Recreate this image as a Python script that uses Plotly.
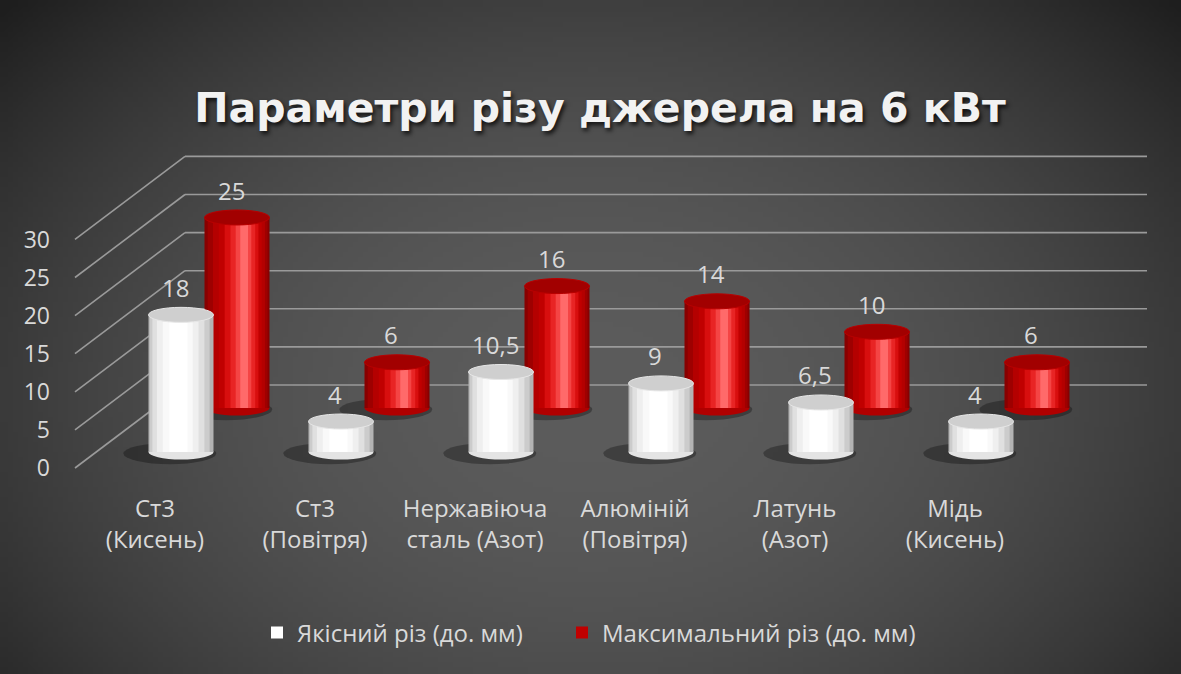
import base64
import struct
import zlib

import numpy as np
import plotly.graph_objects as go

# ---------------- data ----------------
categories = [
    "Ст3<br>(Кисень)",
    "Ст3<br>(Повітря)",
    "Нержавіюча<br>сталь (Азот)",
    "Алюміній<br>(Повітря)",
    "Латунь<br>(Азот)",
    "Мідь<br>(Кисень)",
]
quality_cut = [18, 4, 10.5, 9, 6.5, 4]
max_cut = [25, 6, 16, 14, 10, 6]
y_ticks = [0, 5, 10, 15, 20, 25, 30]
series_names = ["Якісний різ (до. мм)", "Максимальний різ (до. мм)"]
title_text = "Параметри різу джерела на 6 кВт"

# ---------------- layout helpers ----------------
W, H = 1181, 674
SC = 7.62  # pixels per unit


def fx(px):
    return px / W


def fy(py):
    return 1 - py / H


FONT = "Open Sans"
TXT = "#d9d9d9"
GRID = "#9a9a9a"
Y_LO, Y_HI = -3, 33  # axis range of the bar rows (room for rounded bottoms)
CAP = 7.5 / SC       # half height of cylinder ellipse, in data units


# ---------------- background gradient image ----------------
def gradient_png(w=236, h=135):
    yy, xx = np.mgrid[0:h, 0:w].astype(float)
    cx, cy = 0.5 * w, 0.58 * h
    d = np.sqrt(((xx - cx) / (0.62 * w)) ** 2 + ((yy - cy) / (0.78 * h)) ** 2)
    v = 92 - 52 * d ** 2
    v = np.clip(v, 30, 255).astype(np.uint8)
    rgb = np.stack([v, v, v], axis=-1)
    raw = b"".join(b"\x00" + rgb[r].tobytes() for r in range(h))

    def chunk(tag, data):
        c = struct.pack(">I", len(data)) + tag + data
        return c + struct.pack(">I", zlib.crc32(tag + data) & 0xFFFFFFFF)

    png = b"\x89PNG\r\n\x1a\n"
    png += chunk(b"IHDR", struct.pack(">IIBBBBB", w, h, 8, 2, 0, 0, 0))
    png += chunk(b"IDAT", zlib.compress(raw, 9))
    png += chunk(b"IEND", b"")
    return "data:image/png;base64," + base64.b64encode(png).decode()


fig = go.Figure()

BW = 65 / 160  # bar width in category units

# shading layers: (width fraction, centre shift fraction, colour, carries legend)
red_layers = [
    (1.00, 0.00, "#880000", False),
    (0.92, 0.01, "#9e0000", False),
    (0.80, 0.03, "#b40000", False),
    (0.66, 0.05, "#c00000", True),
    (0.52, 0.07, "#d80e0e", False),
    (0.38, 0.09, "#e82424", False),
    (0.24, 0.10, "#f44444", False),
    (0.12, 0.11, "#ff6a6a", False),
]
white_layers = [
    (1.00, 0.00, "#b4b4b4", False),
    (0.92, -0.02, "#cccccc", False),
    (0.80, -0.04, "#e0e0e0", False),
    (0.64, -0.05, "#efefef", False),
    (0.46, -0.05, "#f9f9f9", False),
    (0.28, -0.04, "#ffffff", True),
]

shadow_shapes, bottom_shapes, top_shapes, annotations = [], [], [], []


def add_series(values, layers, xa, ya, name, legend_id, top_col, top_line, bot_col):
    for frac, shift, col, leg in layers:
        ww = BW * frac
        fig.add_trace(go.Bar(
            x=categories, y=values, xaxis=xa, yaxis=ya,
            width=ww, offset=shift * BW - ww / 2,
            marker=dict(color=col, line=dict(width=0)),
            name=name, showlegend=leg, legend=legend_id,
            hoverinfo="skip",
        ))
    for i, v in enumerate(values):
        # soft shadow on the floor
        shadow_shapes.append(dict(type="circle", xref=xa, yref=ya, layer="below",
                                  x0=i - 0.36, x1=i + 0.22, y0=-1.6, y1=1.2,
                                  fillcolor="rgba(0,0,0,0.30)", line=dict(width=0)))
        # rounded bottom of the cylinder
        bottom_shapes.append(dict(type="circle", xref=xa, yref=ya, layer="below",
                                  x0=i - BW / 2, x1=i + BW / 2, y0=-CAP, y1=CAP,
                                  fillcolor=bot_col, line=dict(width=0)))
        # top ellipse of the cylinder
        top_shapes.append(dict(type="circle", xref=xa, yref=ya, layer="above",
                               x0=i - BW / 2, x1=i + BW / 2, y0=v - CAP, y1=v + CAP,
                               fillcolor=top_col, line=dict(width=1, color=top_line)))
        annotations.append(dict(xref=xa, yref=ya, x=i, y=v, xshift=-6, yshift=9,
                                yanchor="bottom", showarrow=False,
                                text=f"{v:g}".replace(".", ","),
                                font=dict(family=FONT, size=24, color=TXT)))


# red (back row) drawn first, white (front row) on top
add_series(max_cut, red_layers, "x", "y", series_names[1], "legend2",
           "#a20000", "#b80000", "#b00000")
add_series(quality_cut, white_layers, "x2", "y2", series_names[0], "legend",
           "#cfcfcf", "#e6e6e6", "#e4e4e4")

# invisible trace carrying the labelled front axes
fig.add_trace(go.Scatter(
    x=categories, y=quality_cut, xaxis="x3", yaxis="y3",
    mode="markers", marker=dict(opacity=0), showlegend=False, hoverinfo="skip",
))

# gridlines on back wall and diagonal side wall
grid_shapes = []
for v in y_ticks:
    grid_shapes.append(dict(type="line", xref="paper", yref="paper", layer="below",
                            x0=fx(185), x1=fx(1147), y0=fy(385 - v * SC), y1=fy(385 - v * SC),
                            line=dict(color=GRID, width=1.6)))
    grid_shapes.append(dict(type="line", xref="paper", yref="paper", layer="below",
                            x0=fx(75), x1=fx(185), y0=fy(468 - v * SC), y1=fy(385 - v * SC),
                            line=dict(color=GRID, width=1.6)))

hidden = dict(visible=False, showgrid=False, zeroline=False, fixedrange=True)
legend_style = dict(orientation="h", xanchor="left", y=fy(633), yanchor="middle",
                    font=dict(family=FONT, size=24, color=TXT), bgcolor="rgba(0,0,0,0)",
                    itemwidth=30, itemclick=False, itemdoubleclick=False)


def row_domain(base_px):
    return [fy(base_px - Y_LO * SC), fy(base_px - Y_HI * SC)]


fig.update_layout(
    width=W, height=H,
    margin=dict(l=0, r=0, t=0, b=0, pad=0, autoexpand=False),
    paper_bgcolor="#3c3c3c",
    plot_bgcolor="rgba(0,0,0,0)",
    barmode="overlay",
    font=dict(family=FONT, color=TXT),
    images=[dict(source=gradient_png(), xref="paper", yref="paper", x=0, y=1,
                 sizex=1, sizey=1, sizing="stretch", layer="below",
                 xanchor="left", yanchor="top")],
    shapes=grid_shapes + shadow_shapes + bottom_shapes + top_shapes,
    annotations=annotations,
    title=dict(text=title_text, x=fx(600), y=fy(108), xanchor="center", yanchor="middle",
               xref="paper", yref="paper",
               font=dict(family="DejaVu Sans", size=41, color="#f2f2f2", weight="bold",
                         shadow="2px 3px 4px rgba(0,0,0,0.75)")),
    xaxis=dict(domain=[fx(157), fx(1117)], type="category", range=[-0.5, 5.5],
               anchor="y", **hidden),
    yaxis=dict(domain=row_domain(408), range=[Y_LO, Y_HI], anchor="x", **hidden),
    xaxis2=dict(domain=[fx(101), fx(1061)], type="category", range=[-0.5, 5.5],
                anchor="y2", **hidden),
    yaxis2=dict(domain=row_domain(452), range=[Y_LO, Y_HI], anchor="x2", **hidden),
    xaxis3=dict(domain=[fx(75), fx(1035)], type="category", range=[-0.5, 5.5],
                anchor="y3", showgrid=False, zeroline=False, showline=False, ticks="",
                tickfont=dict(family=FONT, size=24, color=TXT), ticklabelstandoff=24,
                automargin=False, fixedrange=True),
    yaxis3=dict(domain=[fy(468), fy(240)], range=[0, 30], tickvals=y_ticks,
                anchor="free", position=fx(50), showgrid=False, zeroline=False,
                showline=False, ticks="", automargin=False,
                tickfont=dict(family=FONT, size=23, color=TXT), fixedrange=True),
    legend=dict(x=fx(257), **legend_style),
    legend2=dict(x=fx(562), **legend_style),
    showlegend=True,
)

fig.write_html("out.html", config={"displayModeBar": False},
               post_script="document.body.style.margin='0';")
